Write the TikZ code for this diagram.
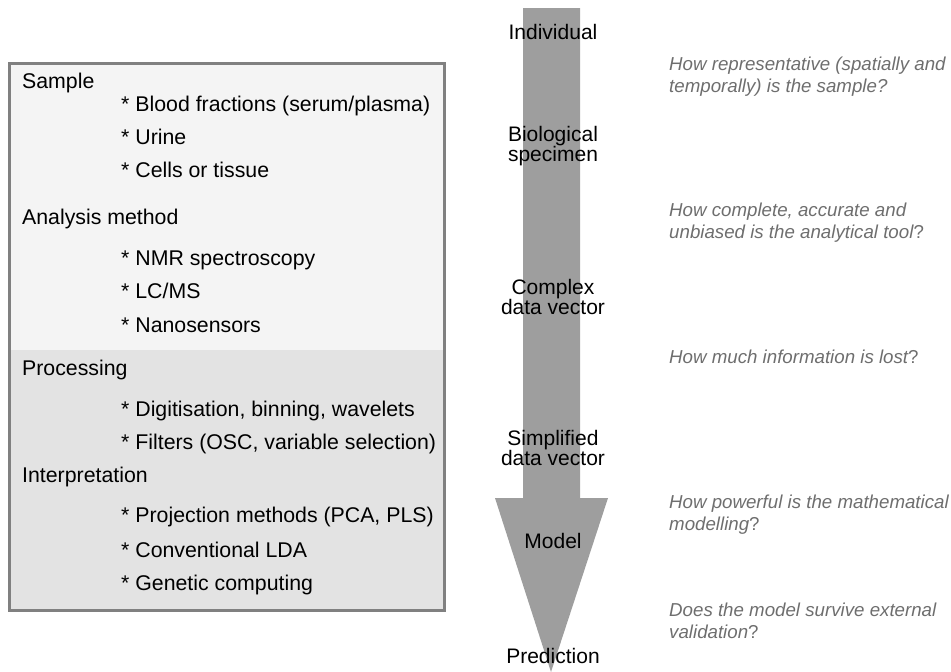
\documentclass[tikz,border=0pt]{standalone}
\usepackage{fontspec}
\setmainfont{Liberation Sans}
\usepackage{tikz}
\usetikzlibrary{calc,positioning}
\definecolor{boxtop}{HTML}{F4F4F4}
\definecolor{boxbot}{HTML}{E3E3E3}
\definecolor{boxline}{HTML}{808080}
\definecolor{shaftgray}{HTML}{9E9E9E}
\definecolor{askgray}{HTML}{6E6E6E}

\begin{document}
\begin{tikzpicture}[x=1pt,y=-1pt,
  head/.style={anchor=base west,inner sep=0pt,font=\fontsize{21.3}{25}\selectfont},
  item/.style={anchor=base west,inner sep=0pt,font=\fontsize{21.3}{25}\selectfont},
  stage/.style={align=center,inner sep=0pt,font=\fontsize{21}{20}\selectfont},
  ask/.style={anchor=west,align=left,inner sep=0pt,text=askgray,font=\fontsize{18.7}{22}\selectfont\itshape}]
\useasboundingbox (0,0) rectangle (951,672);
\fill[boxtop] (9.5,63.5) coordinate(P) rectangle (444.5,350) coordinate(Q);
\fill[boxbot] (9.5,350) rectangle (444.5,610) coordinate(R);
\draw[line width=3pt,boxline] (P) rectangle (R);
\node[head] (sample) at (22,88) {Sample};
\node[item] (blood) at (121,111) {* Blood fractions (serum/plasma)};
\node[item] (urine) at (121,144) {* Urine};
\node[item] (cells) at (121,177) {* Cells or tissue};
\node[head] (analysis) at (22,224) {Analysis method};
\node[item] (nmr) at (121,265) {* NMR spectroscopy};
\node[item] (lcms) at (121,298) {* LC/MS};
\node[item] (nano) at (121,332) {* Nanosensors};
\node[head] (processing) at (22,375) {Processing};
\node[item] (digit) at (121,416) {* Digitisation, binning, wavelets};
\node[item] (filters) at (121,449) {* Filters (OSC, variable selection)};
\node[head] (interp) at (22,482) {Interpretation};
\node[item] (proj) at (121,522) {* Projection methods (PCA, PLS)};
\node[item] (lda) at (121,557) {* Conventional LDA};
\node[item] (genetic) at (121,590) {* Genetic computing};
\fill[shaftgray] (523,8) coordinate(A) -- ++(57,0) coordinate(B) -- ++(0,490) coordinate(C) -- ++(28,0) coordinate(D) -- (551,672) coordinate(E) -- (495,498) coordinate(F) -- ++(28,0) coordinate(G) -- cycle;
\node[stage] (individual) at (553,32) {Individual};
\node[stage] (specimen) at (553,146) {Biological\\specimen};
\node[stage] (complex) at (553,297) {Complex\\data vector};
\node[stage] (simplified) at (553,448) {Simplified\\data vector};
\node[stage] (model) at (553,541) {Model};
\node[stage] (prediction) at (553,656) {Prediction};
\node[ask] (q1) at (669,77) {How representative (spatially and\\temporally) is the sample?};
\node[ask] (q2) at (669,223) {How complete, accurate and\\unbiased is the analytical tool{\upshape ?}};
\node[ask] (q3) at (669,357) {How much information is lost{\upshape ?}};
\node[ask] (q4) at (669,515) {How powerful is the mathematical\\modelling{\upshape ?}};
\node[ask] (q5) at (669,621) {Does the model survive external\\validation{\upshape ?}};
\end{tikzpicture}
\end{document}
